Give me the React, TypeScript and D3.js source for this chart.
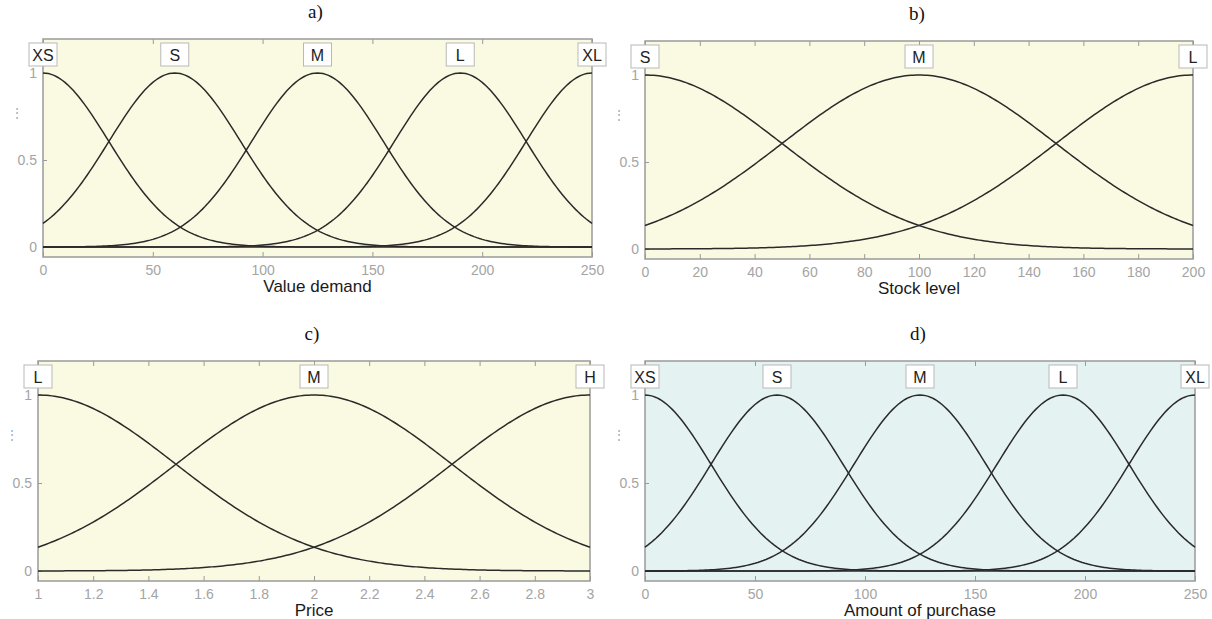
import React, { useEffect, useRef } from "react";
import * as d3 from "d3";

// membership function sets (gaussian: centre, sigma)
const demandTerms = ["XS", "S", "M", "L", "XL"];
const demandCenters = [0, 60, 125, 190, 250];
const demandSigmas = [30, 30, 30, 30, 30];
const demandTicks = [0, 50, 100, 150, 200, 250];

const stockTerms = ["S", "M", "L"];
const stockCenters = [0, 100, 200];
const stockSigmas = [50, 50, 50];
const stockTicks = [0, 20, 40, 60, 80, 100, 120, 140, 160, 180, 200];

const priceTerms = ["L", "M", "H"];
const priceCenters = [1, 2, 3];
const priceSigmas = [0.5, 0.5, 0.5];
const priceTicks = [1, 1.2, 1.4, 1.6, 1.8, 2, 2.2, 2.4, 2.6, 2.8, 3];

const purchaseTerms = ["XS", "S", "M", "L", "XL"];
const purchaseCenters = [0, 60, 125, 190, 250];
const purchaseSigmas = [30, 30, 30, 30, 30];

const yTicks = [0, 0.5, 1];

const sans = "Liberation Sans, Arial, sans-serif";

const panels = [
  { title: "a)", label: "Value demand", terms: demandTerms, centers: demandCenters, sigmas: demandSigmas, ticks: demandTicks, bg: "#fafae2", box: [43, 592, 39, 257] },
  { title: "b)", label: "Stock level", terms: stockTerms, centers: stockCenters, sigmas: stockSigmas, ticks: stockTicks, bg: "#fafae2", box: [645, 1193, 41, 259] },
  { title: "c)", label: "Price", terms: priceTerms, centers: priceCenters, sigmas: priceSigmas, ticks: priceTicks, bg: "#fafae2", box: [38, 590, 361, 581] },
  { title: "d)", label: "Amount of purchase", terms: purchaseTerms, centers: purchaseCenters, sigmas: purchaseSigmas, ticks: demandTicks, bg: "#e4f2f2", box: [645, 1195, 361, 581] },
];

export default function App() {
  const ref = useRef<SVGSVGElement>(null);

  useEffect(() => {
    const svg = d3.select(ref.current);
    svg.selectAll("*").remove();

    panels.forEach((p) => {
      const [x0, x1, top, bottom] = p.box;
      const lo = p.ticks[0];
      const hi = p.ticks[p.ticks.length - 1];
      const x = d3.scaleLinear().domain([lo, hi]).range([x0, x1]);
      const y = d3.scaleLinear().domain([0, 1]).range([bottom - 10, top + 34]);
      const g = svg.append("g");

      g.append("rect")
        .attr("x", x0).attr("y", top)
        .attr("width", x1 - x0).attr("height", bottom - top)
        .attr("fill", p.bg);

      // bottom axis, ticks pointing inward
      const ax = g.append("g")
        .attr("transform", "translate(0," + bottom + ")")
        .call(d3.axisBottom(x).tickValues(p.ticks).tickSize(-5).tickPadding(8).tickFormat(d3.format("")));
      ax.select(".domain").remove();
      ax.selectAll("line").attr("stroke", "#9a9a9a");
      ax.selectAll("text").attr("fill", "#a4a4a4").attr("font-size", 14).attr("font-family", sans);

      // mirrored ticks along the top
      const tx = g.append("g")
        .attr("transform", "translate(0," + top + ")")
        .call(d3.axisTop(x).tickValues(p.ticks).tickSize(-5).tickFormat(() => ""));
      tx.select(".domain").remove();
      tx.selectAll("line").attr("stroke", "#9a9a9a");

      const ay = g.append("g")
        .attr("transform", "translate(" + x0 + ",0)")
        .call(d3.axisLeft(y).tickValues(yTicks).tickSize(-4).tickPadding(6).tickFormat(d3.format("")));
      ay.select(".domain").remove();
      ay.selectAll("line").attr("stroke", "#9a9a9a");
      ay.selectAll("text").attr("fill", "#a4a4a4").attr("font-size", 14).attr("font-family", sans);

      g.append("rect")
        .attr("x", x0).attr("y", top)
        .attr("width", x1 - x0).attr("height", bottom - top)
        .attr("fill", "none").attr("stroke", "#9a9a9a").attr("stroke-width", 1.5);

      g.append("text")
        .attr("x", x0 - 26).attr("y", top + 78)
        .attr("fill", "#8fa9c4").attr("font-size", 12).attr("text-anchor", "middle")
        .text("⋮");

      const xs = d3.range(0, 201).map((i) => lo + ((hi - lo) * i) / 200);
      p.centers.forEach((c, i) => {
        const s = p.sigmas[i];
        const line = d3.line<number>()
          .x((v) => x(v))
          .y((v) => y(Math.exp(-((v - c) * (v - c)) / (2 * s * s))));
        g.append("path")
          .datum(xs)
          .attr("fill", "none")
          .attr("stroke", "#2a2a2a")
          .attr("stroke-width", 1.5)
          .attr("d", line);
      });

      p.terms.forEach((t, i) => {
        const cx = x(p.centers[i]);
        const w = 28;
        g.append("rect")
          .attr("x", cx - w / 2).attr("y", top + 4)
          .attr("width", w).attr("height", 23)
          .attr("fill", "#ffffff").attr("stroke", "#b8b8b8");
        g.append("text")
          .attr("x", cx).attr("y", top + 21.5)
          .attr("text-anchor", "middle")
          .attr("font-size", 16).attr("fill", "#222")
          .attr("font-family", sans)
          .text(t);
      });

      g.append("text")
        .attr("x", (x0 + x1) / 2).attr("y", bottom + 35)
        .attr("text-anchor", "middle")
        .attr("font-size", 17).attr("fill", "#1a1a1a")
        .attr("font-family", sans)
        .text(p.label);

      g.append("text")
        .attr("x", (x0 + x1) / 2 - 2).attr("y", top - 21)
        .attr("text-anchor", "middle")
        .attr("font-size", 19).attr("fill", "#111")
        .attr("font-family", "Liberation Serif, DejaVu Serif, serif")
        .text(p.title);
    });
  }, []);

  return (
    <svg ref={ref} width={1212} height={619} style={{ position: "absolute", left: 0, top: 0 }} />
  );
}
